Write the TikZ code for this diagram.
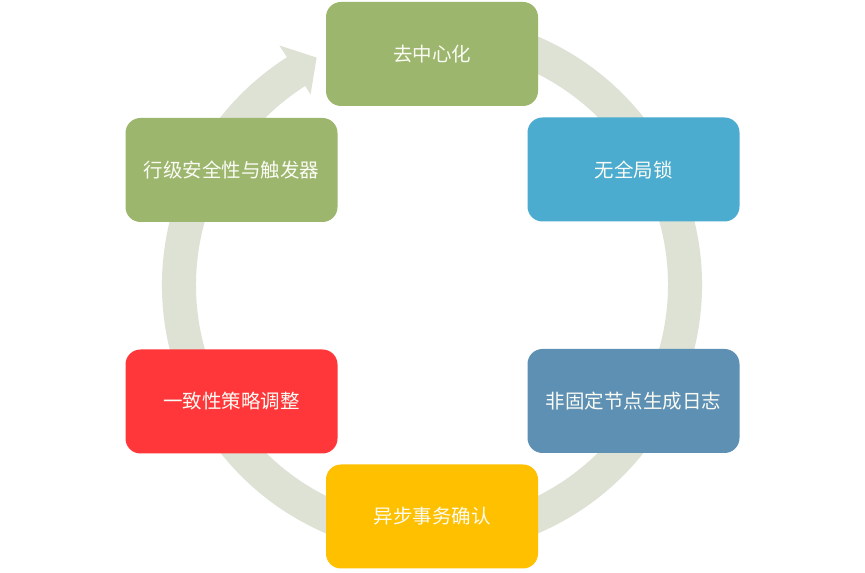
\documentclass[tikz,border=0pt]{standalone}
\usepackage{fontspec}
\newfontfamily\cjk{Noto Sans CJK SC}
\definecolor{boxgreen}{RGB}{157,182,110}
\definecolor{boxblue}{RGB}{75,172,208}
\definecolor{boxsteel}{RGB}{94,144,180}
\definecolor{boxyellow}{RGB}{255,192,0}
\definecolor{boxred}{RGB}{255,55,58}
\definecolor{ringgray}{RGB}{221,226,213}
\definecolor{txt}{RGB}{250,251,244}
\tikzset{
  stage/.style={rectangle, rounded corners=15pt, minimum width=212pt, minimum height=104pt,
    inner sep=0pt, text=txt, font=\cjk\fontsize{19.5}{22}\selectfont}
}
\begin{document}
\begin{tikzpicture}[x=1pt,y=1pt]
\useasboundingbox (0,0) rectangle (865,573);
\fill[white] (0,0) rectangle (865,573);
% circular arrow
\begin{scope}[shift={(432,288)}]
\fill[ringgray] (80:270pt) arc[start angle=80, end angle=-237.5, radius=270pt]
  -- (-237.5:284pt) -- (-243.1:255pt) -- (-237.5:226pt)
  -- (-237.5:236pt) arc[start angle=-237.5, end angle=80, radius=236pt] -- cycle;
\end{scope}
% stages
\node[stage, fill=boxgreen]  (top)  at (432,519)   {去中心化};
\node[stage, fill=boxblue]   (ur)   at (633.5,403.5) {无全局锁};
\node[stage, fill=boxsteel]  (lr)   at (633.5,172) {非固定节点生成日志};
\node[stage, fill=boxyellow] (bot)  at (432,56.5)  {异步事务确认};
\node[stage, fill=boxred]    (ll)   at (231.5,171.5) {一致性策略调整};
\node[stage, fill=boxgreen]  (ul)   at (231.5,403) {行级安全性与触发器};
\end{tikzpicture}
\end{document}
